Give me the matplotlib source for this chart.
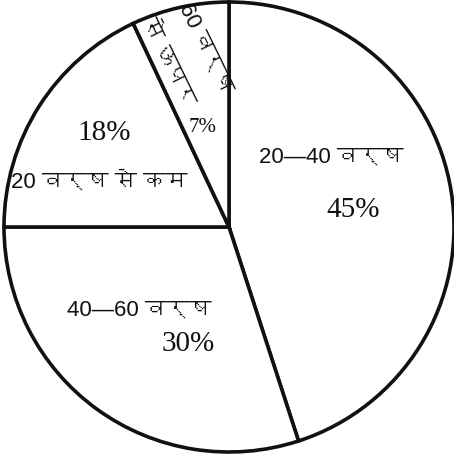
import matplotlib
matplotlib.use("Agg")
import matplotlib.pyplot as plt
from matplotlib import font_manager
from matplotlib.ft2font import FT2Font

labels = ["20—40 वर्ष", "40—60 वर्ष", "20 वर्ष से कम", "60 वर्ष से ऊपर"]
values = [45, 30, 18, 7]
pct_labels = ["45%", "30%", "18%", "7%"]

# find a font with Devanagari glyphs
deva = None
for f in font_manager.fontManager.ttflist:
    try:
        ft = FT2Font(f.fname)
        if ft.get_char_index(0x0935) and ft.get_char_index(0x0937):
            deva = f.name
            break
    except Exception:
        pass
sans = ["Liberation Sans"] + ([deva] if deva else []) + ["DejaVu Sans"]
serif = ["Liberation Serif", "DejaVu Serif"]

fig = plt.figure(figsize=(4.54, 4.54), dpi=100)
ax = fig.add_axes([0, 0, 1, 1])

H = 454
ax.pie(values, center=(229, H - 227), radius=225, startangle=90, counterclock=False,
       colors=["white"] * 4, wedgeprops=dict(edgecolor="#111111", linewidth=2.6),
       frame=True)
ax.set_xlim(0, 454)
ax.set_ylim(0, 454)
ax.set_aspect("equal")
ax.axis("off")

def txt(x, y, s, fam, size, rot=0):
    ax.text(x, H - y, s, family=fam, fontsize=size, ha="center", va="center",
            rotation=rot, rotation_mode="anchor", color="#111111")

txt(331, 157, labels[0], sans, 16)
txt(353, 210, pct_labels[0], serif, 21)
txt(139, 310, labels[1], sans, 16)
txt(188, 344, pct_labels[1], serif, 21)
txt(99, 182, labels[2], sans, 16)
txt(104, 133, pct_labels[2], serif, 21)
txt(205, 48, "60 वर्ष", sans, 16, rot=-64)
txt(168, 62, "से ऊपर", sans, 16, rot=-64)
txt(203, 127, pct_labels[3], serif, 15)

fig.savefig("out.png", dpi=100)
